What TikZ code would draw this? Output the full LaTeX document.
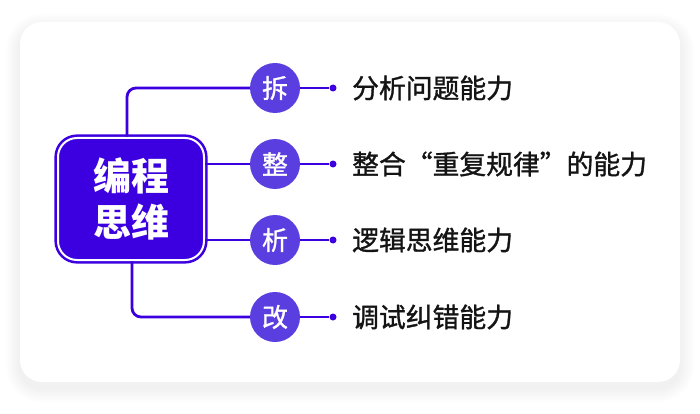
\documentclass[tikz,border=0pt]{standalone}
\usepackage{fontspec}
\usepackage{tikz}
\newfontfamily\cjk{Noto Sans CJK SC}
\newfontfamily\cjkmid{Noto Sans CJK SC}[FakeBold=1.2]
\definecolor{deepblue}{HTML}{3C00E0}
\definecolor{badgeblue}{HTML}{5A3EE0}
\definecolor{textgray}{HTML}{141414}

\begin{document}
\begin{tikzpicture}[
		x=1pt, y=-1pt,
		every node/.style={font=\cjk},
		link/.style={draw=deepblue, line width=2.8pt, rounded corners=9pt},
		hub/.style={rectangle, rounded corners=19pt, fill=deepblue, draw=deepblue,
			double=white, double distance=2pt, line width=2.6pt,
			minimum width=146pt, minimum height=122pt, text=white,
			font=\cjk\bfseries\fontsize{38}{46}\selectfont, align=center},
		badge/.style={circle, fill=badgeblue, minimum size=50pt, inner sep=0pt,
			text=white, font=\cjkmid\fontsize{26}{26}\selectfont},
		dot/.style={circle, fill=deepblue, minimum size=7pt, inner sep=0pt},
		skill/.style={anchor=west, inner sep=0pt, text=textgray,
			font=\cjkmid\fontsize{26.8}{26.8}\selectfont}
	]
  \useasboundingbox (0,0) rectangle (700,414);
  % card with a soft shadow
  \foreach \s in {14,12,...,2}
    \fill[black, opacity=0.008, rounded corners=22pt+\s pt]
      (20-\s,22-\s+6) rectangle (680+\s,382+\s+6);
  \fill[white, rounded corners=22pt] (20,22) rectangle (680,382);

  \node (hub) [hub] at (131,199) {编程\\思维};

  \node (c1) [badge] at (275,88) {拆};
  \node (c2) [badge] at (275,164) {整};
  \node (c3) [badge] at (275,240) {析};
  \node (c4) [badge] at (275,317) {改};

  \node (d1) [dot] at (333,88) {};
  \node (d2) [dot] at (333,164) {};
  \node (d3) [dot] at (333,240) {};
  \node (d4) [dot] at (333,317) {};

  \node (t1) [skill] at (352,88) {分析问题能力};
  \node (t2) [skill] at (352,164) {整合“重复规律”的能力};
  \node (t3) [skill] at (352,240) {逻辑思维能力};
  \node (t4) [skill] at (352,317) {调试纠错能力};

  \draw[link] ([xshift=-4pt]hub.north) |- (c1);
  \draw[link] (hub.east |- c2) -- (c2);
  \draw[link] (hub.east |- c3) -- (c3);
  \draw[link] ([xshift=1pt]hub.south) |- (c4);
  \draw[link] (c1) -- (d1);
  \draw[link] (c2) -- (d2);
  \draw[link] (c3) -- (d3);
  \draw[link] (c4) -- (d4);
\end{tikzpicture}
\end{document}
